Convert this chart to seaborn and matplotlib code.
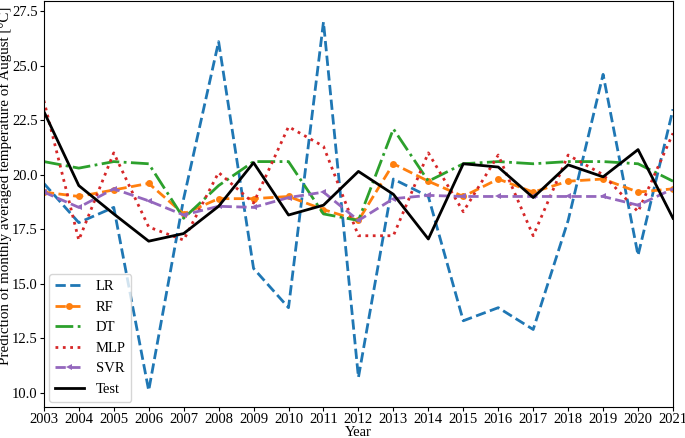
import matplotlib

matplotlib.use("Agg")
import matplotlib.pyplot as plt
import seaborn as sns
import pandas as pd

years = list(range(2003, 2022))

lr = [19.6, 17.8, 18.5, 10.1, 18.9, 26.1, 15.7, 13.9, 27.0, 10.7,
      19.8, 19.0, 13.3, 13.9, 12.9, 17.9, 24.6, 16.3, 23.0]
rf = [19.2, 19.0, 19.3, 19.6, 18.2, 18.9, 18.9, 19.0, 18.4, 17.9,
      20.5, 19.7, 19.0, 19.8, 19.2, 19.7, 19.8, 19.2, 19.35]
dt = [20.6, 20.3, 20.6, 20.5, 18.0, 19.5, 20.6, 20.6, 18.2, 17.9,
      22.1, 19.7, 20.5, 20.6, 20.5, 20.6, 20.6, 20.5, 19.7]
mlp = [23.4, 17.0, 21.0, 17.6, 17.0, 20.1, 18.7, 22.2, 21.3, 17.2,
       17.2, 21.0, 18.3, 20.9, 17.2, 20.9, 20.0, 18.3, 21.9]
svr = [19.2, 18.5, 19.35, 18.8, 18.15, 18.55, 18.5, 18.95, 19.2, 17.9,
       18.9, 19.05, 19.0, 19.0, 19.0, 19.0, 19.0, 18.6, 19.35]
test = [22.9, 19.5, 18.2, 16.95, 17.3, 18.55, 20.55, 18.15, 18.6, 20.15,
        19.1, 17.05, 20.5, 20.35, 18.95, 20.45, 19.9, 21.15, 18.0]

df = pd.DataFrame({"Year": years, "LR": lr, "RF": rf, "DT": dt,
                   "MLP": mlp, "SVR": svr, "Test": test})

plt.rcParams["font.family"] = ["Liberation Serif", "DejaVu Serif"]
plt.rcParams["font.size"] = 10.5

fig, ax = plt.subplots(figsize=(6.85, 4.38), dpi=100)
fig.subplots_adjust(left=0.064, right=0.9825, top=0.997, bottom=0.071)

lw = 2.0
sns.lineplot(data=df, x="Year", y="LR", ax=ax, color="tab:blue",
             linestyle="--", linewidth=lw, label="LR")
sns.lineplot(data=df, x="Year", y="RF", ax=ax, color="tab:orange",
             linestyle="--", marker="o", markersize=5, markeredgewidth=0,
             linewidth=lw, label="RF")
sns.lineplot(data=df, x="Year", y="DT", ax=ax, color="tab:green",
             linestyle="-.", linewidth=lw, label="DT")
sns.lineplot(data=df, x="Year", y="MLP", ax=ax, color="tab:red",
             linestyle=":", linewidth=lw, label="MLP")
sns.lineplot(data=df, x="Year", y="SVR", ax=ax, color="tab:purple",
             linestyle="--", marker="<", markersize=5, markeredgewidth=0,
             linewidth=lw, label="SVR")
sns.lineplot(data=df, x="Year", y="Test", ax=ax, color="black",
             linestyle="-", linewidth=lw, label="Test")

ax.set_xlim(2003, 2021)
ax.set_ylim(9.35, 27.95)
ax.set_xticks(years)
ax.set_yticks([10.0, 12.5, 15.0, 17.5, 20.0, 22.5, 25.0, 27.5])
ax.tick_params(length=3, pad=1.5)
ax.set_xlabel("Year", labelpad=0)
ax.set_ylabel("Prediction of monthly averaged temperature of August [°C]",
              fontsize=10.8)
ax.yaxis.set_label_coords(-0.050, 0.545)
ax.legend(loc="lower left", fontsize=10.5, borderaxespad=0.35)

fig.savefig("out.png", dpi=100)
plt.close(fig)
